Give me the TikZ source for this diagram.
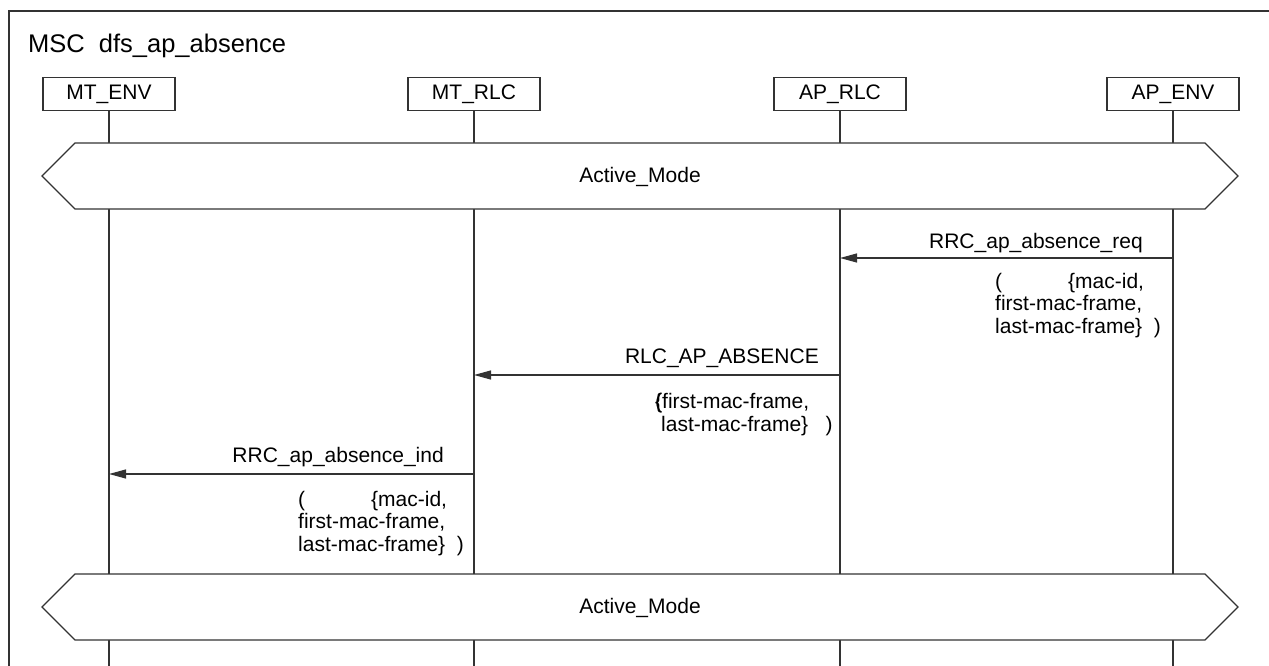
\documentclass[tikz,border=0pt]{standalone}
\usepackage{fontspec}
\setmainfont{Liberation Sans}
\usetikzlibrary{arrows.meta}
\begin{document}
\begin{tikzpicture}[x=1pt,y=-1pt,
  ln/.style={line width=1.2pt, draw=black!80},
  inst/.style={ln, rectangle, minimum width=132pt, minimum height=33pt, inner sep=0pt, font=\fontsize{21}{23}\selectfont},
  lbl/.style={inner sep=0pt, font=\fontsize{21}{22.5}\selectfont},
  params/.style={lbl, align=left, anchor=base west},
  msg/.style={ln, -{Triangle[length=17pt,width=9pt]}},
  cond/.style={ln, fill=white},
]
\useasboundingbox (0,0) rectangle (1269,666);
% frame
\draw[ln] (1269,11) -- (9,11) -- (9,666);
\node[lbl, anchor=base west, font=\fontsize{25.5}{28}\selectfont] (title) at (28,53) {MSC\hspace{7pt} dfs\_ap\_absence};
% instances
\node[inst] (mtenv) at (109,94) {MT\_ENV};
\node[inst] (mtrlc) at (474,94) {MT\_RLC};
\node[inst] (aprlc) at (840,94) {AP\_RLC};
\node[inst] (apenv) at (1173,94) {AP\_ENV};
% reference rows
\coordinate (c1t) at (0,143);
\coordinate (c1b) at (0,209);
\coordinate (c2t) at (0,574);
\coordinate (c2b) at (0,640);
\coordinate (bot) at (0,666);
\coordinate (r1) at (0,258);
\coordinate (r2) at (0,375);
\coordinate (r3) at (0,474);
% lifelines
\foreach \i in {mtenv,mtrlc,aprlc,apenv}{
  \draw[ln] (\i.south) -- (\i.south |- c1t);
  \draw[ln] (\i.south |- c1b) -- (\i.south |- c2t);
  \draw[ln] (\i.south |- c2b) -- (\i.south |- bot);
}
% conditions
\draw[cond] (42,176) -- (75,143) -- (1205,143) -- (1238,176) -- (1205,209) -- (75,209) -- cycle;
\node[lbl] (cond1) at (640,177) {Active\_Mode};
\draw[cond] (42,607) -- (75,574) -- (1205,574) -- (1238,607) -- (1205,640) -- (75,640) -- cycle;
\node[lbl] (cond2) at (640,608) {Active\_Mode};
% message 1
\draw[msg] (apenv |- r1) -- (aprlc |- r1);
\node[lbl, anchor=base east] (m1) at (1143,248) {RRC\_ap\_absence\_req};
\node[params] (m1p) at (995,333) {(\hspace{66pt}\{mac-id,\\first-mac-frame,\\last-mac-frame\}~~)};
% message 2
\draw[msg] (aprlc |- r2) -- (mtrlc |- r2);
\node[lbl, anchor=base east] (m2) at (819,363) {RLC\_AP\_ABSENCE};
\node[params] (m2p) at (655,431) {\rlap{(}\{first-mac-frame,\\\hspace{6pt}last-mac-frame\}~~~)};
% message 3
\draw[msg] (mtrlc |- r3) -- (mtenv |- r3);
\node[lbl, anchor=base east] (m3) at (444,462) {RRC\_ap\_absence\_ind};
\node[params] (m3p) at (298,551) {(\hspace{66pt}\{mac-id,\\first-mac-frame,\\last-mac-frame\}~~)};
\end{tikzpicture}
\end{document}
